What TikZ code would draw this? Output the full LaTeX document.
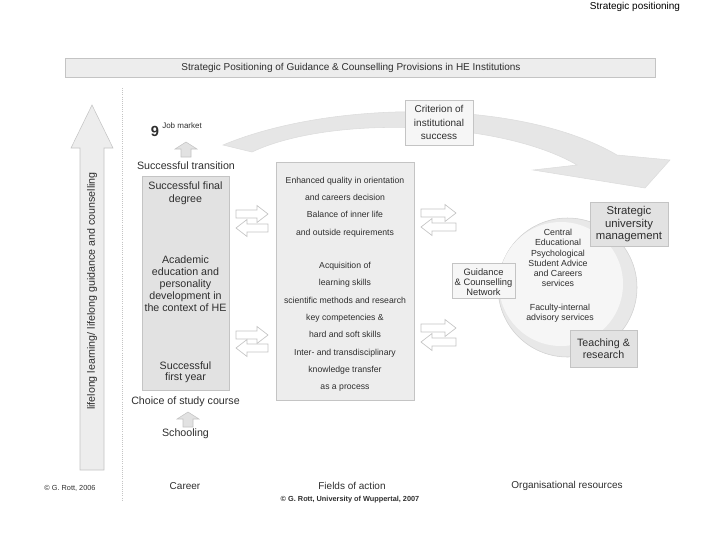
\documentclass[tikz,border=0pt]{standalone}
\usepackage{fontspec}
\setmainfont{Liberation Sans}
\definecolor{bd}{HTML}{C4C4C4}
\definecolor{tx}{HTML}{2E2E2E}
\definecolor{lg}{HTML}{EDEDED}
\definecolor{mg}{HTML}{E2E2E2}
\definecolor{sw}{HTML}{E6E6E6}
\definecolor{wb}{HTML}{F6F6F6}
\newcommand{\rarr}[3]{\draw[blk] ({#1},{#3-4}) -- ({#2-11},{#3-4}) -- ({#2-11},{#3-8.5}) -- ({#2},{#3}) -- ({#2-11},{#3+8.5}) -- ({#2-11},{#3+4}) -- ({#1},{#3+4}) -- cycle;}
\newcommand{\larr}[3]{\draw[blk] ({#2},{#3-4}) -- ({#1+11},{#3-4}) -- ({#1+11},{#3-8.5}) -- ({#1},{#3}) -- ({#1+11},{#3+8.5}) -- ({#1+11},{#3+4}) -- ({#2},{#3+4}) -- cycle;}
\newcommand{\uarr}[3]{\draw[draw=bd,fill=mg] ({#1-5},{#3}) -- ({#1-5},{#2+7}) -- ({#1-11},{#2+7}) -- ({#1},{#2}) -- ({#1+11},{#2+7}) -- ({#1+5},{#2+7}) -- ({#1+5},{#3}) -- cycle;}
\tikzset{
  panel/.style={draw=bd, fill=#1, inner sep=0pt},
  panel/.default=lg,
  txt/.style={text=tx, align=center, inner sep=0pt},
  blk/.style={draw=bd, fill=white, line width=0.5pt},
}
\begin{document}
\begin{tikzpicture}[x=0.75pt,y=-0.75pt]
\useasboundingbox (0,0) rectangle (720,540);
% header
\node[txt, font=\fontsize{7.5}{9}\selectfont, text=black] (hdr) at (635,7) {Strategic positioning};
\node[panel=lg, minimum width=442.5pt, minimum height=14.25pt] (banner) at (360,67.5) {};
\node[txt, font=\fontsize{7.5}{9}\selectfont] (bannertxt) at (351,67.5) {Strategic Positioning of Guidance \& Counselling Provisions in HE Institutions};
% dotted separator
\coordinate (sepT) at (122,88);
\coordinate (sepB) at (122,500);
\draw[bd, densely dotted, line width=0.6pt] (sepT) -- (sepB);
% vertical arrow
\draw[draw=bd, fill=lg] (80,470) -- (104,470) -- (104,148) -- (113,148) -- (92,105) -- (71,148) -- (80,148) -- cycle;
\node[txt, rotate=90, font=\fontsize{8}{9}\selectfont] (life) at (92,291) {lifelong learning/ lifelong guidance and counselling};
% swoosh
\fill[sw, draw=sw!70!bd] (223,145) .. controls (330,100) and (520,98) .. (617,155)
  -- (670,160) -- (645,188) -- (533,170) -- (577,165)
  .. controls (500,120) and (330,115) .. (252,152) -- cycle;
\node[panel=wb, minimum width=51pt, minimum height=33.75pt] (crit) at (439,122.5) {};
\node[txt, font=\fontsize{7.5}{10}\selectfont] (crittxt) at (439,122.5) {Criterion of\\institutional\\success};
% career column
\node[txt, font=\fontsize{11}{12}\selectfont\bfseries] (nine) at (155,131) {9};
\node[txt, font=\fontsize{6}{7}\selectfont, anchor=west] (job) at (162,126) {Job market};
\uarr{186}{142}{157}
\node[txt, font=\fontsize{8}{9}\selectfont] (trans) at (186,166) {Successful transition};
\node[panel=mg, minimum width=65.25pt, minimum height=160.5pt] (left) at (185.5,283) {};
\node[txt, font=\fontsize{8}{9.5}\selectfont] (deg) at (185.5,193.5) {Successful final\\degree};
\node[txt, font=\fontsize{8}{9}\selectfont] (acad) at (185.5,284) {Academic\\education and\\personality\\development in\\the context of HE};
\node[txt, font=\fontsize{8}{8.5}\selectfont] (first) at (185.5,372) {Successful\\first year};
\node[txt, font=\fontsize{8}{9}\selectfont] (choice) at (185.5,402) {Choice of study course};
\uarr{188}{412}{427}
\node[txt, font=\fontsize{8}{9}\selectfont] (school) at (185.5,434) {Schooling};
% double arrows
\rarr{236}{268}{214}
\larr{236}{268}{228}
\rarr{236}{268}{335}
\larr{236}{268}{348}
\rarr{421}{456}{213}
\larr{421}{456}{227}
\rarr{421}{456}{328}
\larr{421}{456}{342}
% fields of action
\node[panel=lg, minimum width=103.5pt, minimum height=178.5pt] (mid) at (345,281) {};
\node[txt, font=\fontsize{6.5}{13}\selectfont] (midA) at (345,207) {Enhanced quality in orientation\\and careers decision\\Balance of inner life\\and outside requirements};
\node[txt, font=\fontsize{6.5}{13}\selectfont] (midB) at (345,327) {Acquisition of\\learning skills\\scientific methods and research\\key competencies \&\\hard and soft skills\\Inter- and transdisciplinary\\knowledge transfer\\as a process};
% organisational resources
\node[circle, draw=bd!80, fill=mg!80, minimum size=104.25pt, inner sep=0pt] (circ) at (567.5,287.5) {};
\fill[wb] (561,284) circle (62);
\node[txt, font=\fontsize{6.6}{7.65}\selectfont] (central) at (558,258) {Central\\Educational\\Psychological\\Student Advice\\and Careers\\services};
\node[txt, font=\fontsize{6.6}{7.65}\selectfont] (fac) at (560,313) {Faculty-internal\\advisory services};
\node[panel=wb, minimum width=47.25pt, minimum height=26.25pt] (net) at (483.5,280.5) {};
\node[txt, font=\fontsize{7}{7.5}\selectfont] (nettxt) at (483.5,282) {Guidance\\\& Counselling\\Network};
\node[panel=mg, minimum width=58.5pt, minimum height=33pt] (mgmt) at (629,224) {};
\node[txt, font=\fontsize{8.5}{9.4}\selectfont] (mgmttxt) at (629,224.5) {Strategic\\university\\management};
\node[panel=mg, minimum width=50.25pt, minimum height=27.75pt] (teach) at (603.5,348.5) {};
\node[txt, font=\fontsize{8}{9}\selectfont] (teachtxt) at (603.5,349) {Teaching \&\\research};
% footer
\node[txt, font=\fontsize{5.5}{6}\selectfont] (c1) at (70,488) {\copyright\ G. Rott, 2006};
\node[txt, font=\fontsize{7.5}{9}\selectfont] (career) at (185,486) {Career};
\node[txt, font=\fontsize{7.5}{9}\selectfont] (fields) at (352,486) {Fields of action};
\node[txt, font=\fontsize{7.5}{9}\selectfont] (orgres) at (567,486) {Organisational resources};
\node[txt, font=\fontsize{5.5}{6}\selectfont\bfseries] (c2) at (350,500) {\copyright\ G. Rott, University of Wuppertal, 2007};
\end{tikzpicture}
\end{document}
